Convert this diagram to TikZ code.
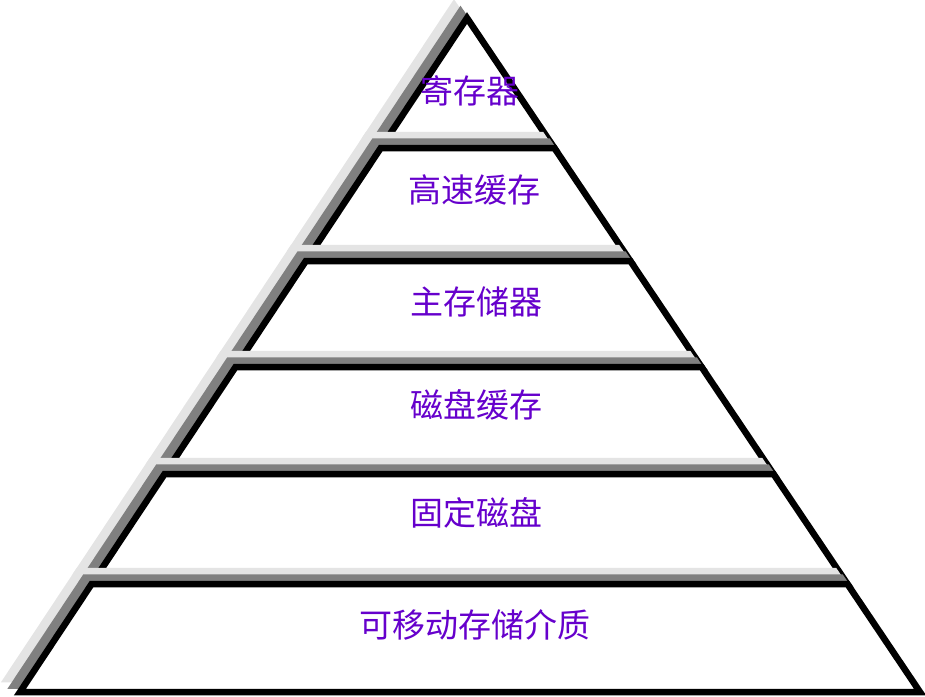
\documentclass[tikz,border=0pt]{standalone}
\usepackage{fontspec}
\newfontfamily\cjk{Noto Sans CJK SC}
\usetikzlibrary{calc}
\definecolor{lbl}{RGB}{102,0,204}
\definecolor{shadelight}{RGB}{228,228,228}
\definecolor{shadedark}{RGB}{128,128,128}
\tikzset{
  layerline/.style={line width=6.5pt, line join=miter},
  shadowlight/.style={layerline, draw=shadelight, fill=shadelight},
  shadowdark/.style={layerline, draw=shadedark, fill=shadedark},
  layerbox/.style={layerline, draw=black, fill=white},
  lbltext/.style={text=lbl, font=\cjk\fontsize{33}{36}\selectfont, inner sep=0pt, anchor=center}
}
\newcommand{\shadedpoly}[4]{% #1 top-left, #2 top-right, #3 bottom-right, #4 bottom-left
  \draw[shadowlight] ([shift={(-13,-13)}]#1) -- ([shift={(-13,-13)}]#2) -- ([shift={(-13,-13)}]#3) -- ([shift={(-13,-13)}]#4) -- cycle;
  \draw[shadowdark] ([shift={(-6.5,-6.5)}]#1) -- ([shift={(-6.5,-6.5)}]#2) -- ([shift={(-6.5,-6.5)}]#3) -- ([shift={(-6.5,-6.5)}]#4) -- cycle;
  \draw[layerbox] (#1) -- (#2) -- (#3) -- (#4) -- cycle;
}
\newcommand{\shadedtri}[3]{%
  \draw[shadowlight] ([shift={(-13,-13)}]#1) -- ([shift={(-13,-13)}]#2) -- ([shift={(-13,-13)}]#3) -- cycle;
  \draw[shadowdark] ([shift={(-6.5,-6.5)}]#1) -- ([shift={(-6.5,-6.5)}]#2) -- ([shift={(-6.5,-6.5)}]#3) -- cycle;
  \draw[layerbox] (#1) -- (#2) -- (#3) -- cycle;
}
\begin{document}
\begin{tikzpicture}[x=1pt,y=-1pt]
\useasboundingbox (0,0) rectangle (925,696);
\coordinate (A) at (467,18);
\coordinate (BL) at (20,692);
\coordinate (BR) at (920,692);
\coordinate (L1) at ($(A)!0.19288!(BL)$);
\coordinate (R1) at ($(A)!0.19288!(BR)$);
\coordinate (L2) at ($(A)!0.36053!(BL)$);
\coordinate (R2) at ($(A)!0.36053!(BR)$);
\coordinate (L3) at ($(A)!0.51780!(BL)$);
\coordinate (R3) at ($(A)!0.51780!(BR)$);
\coordinate (L4) at ($(A)!0.67656!(BL)$);
\coordinate (R4) at ($(A)!0.67656!(BR)$);
\coordinate (L5) at ($(A)!0.83976!(BL)$);
\coordinate (R5) at ($(A)!0.83976!(BR)$);
\shadedtri{A}{R1}{L1}
\shadedpoly{L1}{R1}{R2}{L2}
\shadedpoly{L2}{R2}{R3}{L3}
\shadedpoly{L3}{R3}{R4}{L4}
\shadedpoly{L4}{R4}{R5}{L5}
\shadedpoly{L5}{R5}{BR}{BL}
\node[lbltext] (t1) at (470,91) {寄存器};
\node[lbltext] (t2) at (474,190) {高速缓存};
\node[lbltext] (t3) at (476,302) {主存储器};
\node[lbltext] (t4) at (476,405) {磁盘缓存};
\node[lbltext] (t5) at (476,513) {固定磁盘};
\node[lbltext] (t6) at (475,625) {可移动存储介质};
\end{tikzpicture}
\end{document}
